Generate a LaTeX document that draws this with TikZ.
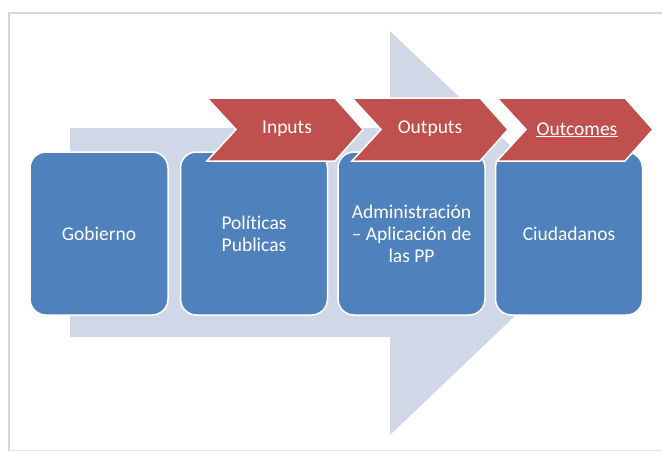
\documentclass[tikz,border=0pt]{standalone}
\usepackage{fontspec}
\setmainfont{Carlito}[Ligatures={NoCommon}]
\usetikzlibrary{positioning}
\definecolor{boxblue}{HTML}{4F81BD}
\definecolor{chevred}{HTML}{C0504D}
\definecolor{arrowgray}{HTML}{D0D8E8}
\definecolor{framegray}{HTML}{D6D6D6}
\definecolor{spellred}{HTML}{F02828}

\begin{document}
\begin{tikzpicture}[x=1pt,y=-1pt,
  box/.style={shape=rectangle, rounded corners=16pt, draw=white, line width=1.5pt, fill=boxblue, text=white,
    minimum height=163pt, minimum width=147pt, align=center, inner sep=0pt, font=\fontsize{19.5}{22}\selectfont},
  chev/.style={fill=chevred, draw=white, line width=1.5pt, line join=miter},
  chevlabel/.style={shape=rectangle, draw=none, text=white, inner sep=0pt, font=\fontsize{19.5}{22}\selectfont}]
%%%%%%%%%%%%%%%%%%%%%%%%%%%%%%%%%%%%%%%%%%% HELP LINES
%\draw[help lines] (0,0) grid +(662,451);
\useasboundingbox (0,0) rectangle (662,451);

%%%%%%%%%%%%%%%%%%%%%%%%%%%%%%%%%%%%%%%%%%% frame
\draw[framegray, line width=1.5pt] (662,13) -- (9,13) -- (9,451);
\draw[framegray!60, line width=1pt] (9,450) -- (662,450);

%%%%%%%%%%%%%%%%%%%%%%%%%%%%%%%%%%%%%%%%%%% big arrow
\fill[arrowgray] (70,128) -- (390,128) -- (390,31) -- (602,233) -- (390,435) -- (390,337) -- (70,337) -- cycle;

%%%%% boxes
\node[box, minimum width=138pt](gob) at (99,233.5) {Gobierno};
\node[box, right=11pt of gob](pol) {Políticas\\Publicas};
\node[box, right=9pt of pol](adm) {Administración\\– Aplicación de\\las PP};
\node[box, right=9pt of adm](ciu) {Ciudadanos};

%%%%% chevrons
\draw[chev] (207,98) -- (335,98) -- (363,129.5) -- (335,161) -- (207,161) -- (236,129.5) -- cycle;
\draw[chev] (352,98) -- (480,98) -- (508,129.5) -- (480,161) -- (352,161) -- (381,129.5) -- cycle;
\draw[chev] (497,98) -- (625,98) -- (653,129.5) -- (625,161) -- (497,161) -- (526,129.5) -- cycle;

\node[chevlabel](inp) at (287,129) {Inputs};
\node[chevlabel](outp) at (430,129) {Outputs};
\node[chevlabel](outc) at (577,129) {Outcomes};
\draw[white, line width=0.8pt] ([yshift=-1.5pt]outc.base west) -- ([yshift=-1.5pt]outc.base east);
\draw[spellred, line width=1.3pt, dash pattern=on 1.3pt off 1.2pt] ([yshift=-4.5pt]outc.base west) -- ([yshift=-4.5pt]outc.base east);
\end{tikzpicture}
\end{document}
